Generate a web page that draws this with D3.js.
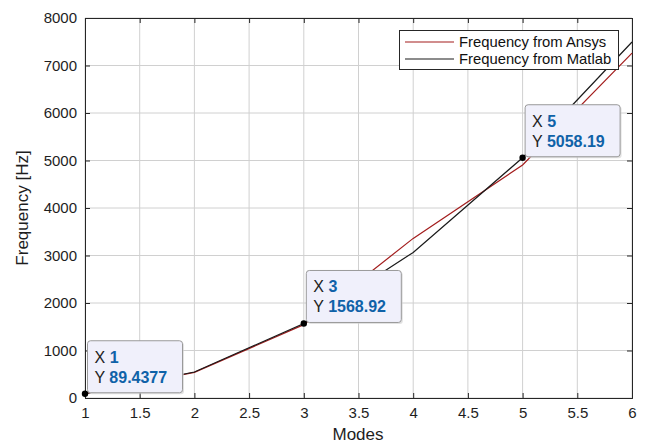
<!DOCTYPE html>
<html><head><meta charset="utf-8">
<script src="https://cdn.jsdelivr.net/npm/d3@7"></script>
<style>body{margin:0;background:#fff;} svg{font-family:"Liberation Sans",Arial,sans-serif;}</style>
</head><body>
<svg id="c" width="648" height="443"></svg>
<script>
const modes = [1, 2, 3, 4, 5, 6];
const ansys = [89.4, 540, 1545, 3360, 4905, 7260];
const matlab = [89.4377, 548, 1568.92, 3065, 5058.19, 7495];
const xTicks = [1, 1.5, 2, 2.5, 3, 3.5, 4, 4.5, 5, 5.5, 6];
const yTicks = [0, 1000, 2000, 3000, 4000, 5000, 6000, 7000, 8000];
const seriesNames = ["Frequency from Ansys", "Frequency from Matlab"];
const tipIdx = [0, 2, 4];
const tipLabels = ["89.4377", "1568.92", "5058.19"];

const svg = d3.select("#c");
const L = 85, R = 632, T = 18, B = 398;
const x = d3.scaleLinear().domain([1, 6]).range([L, R]);
const y = d3.scaleLinear().domain([0, 8000]).range([B, T]);

// grid
svg.append("g").selectAll("line").data(xTicks).join("line")
  .attr("x1", d => x(d)).attr("x2", d => x(d)).attr("y1", T).attr("y2", B)
  .attr("stroke", "#d0d0d0").attr("stroke-width", 1);
svg.append("g").selectAll("line").data(yTicks).join("line")
  .attr("y1", d => y(d)).attr("y2", d => y(d)).attr("x1", L).attr("x2", R)
  .attr("stroke", "#d0d0d0").attr("stroke-width", 1);

// axes
const ax = svg.append("g").attr("transform", `translate(0,${B})`)
  .call(d3.axisBottom(x).tickValues(xTicks).tickSize(-5).tickPadding(9).tickFormat(d3.format("")));
const ay = svg.append("g").attr("transform", `translate(${L},0)`)
  .call(d3.axisLeft(y).tickValues(yTicks).tickSize(-5).tickPadding(8).tickFormat(d3.format("")));
const axT = svg.append("g").attr("transform", `translate(0,${T})`)
  .call(d3.axisTop(x).tickValues(xTicks).tickSize(-5).tickFormat(""));
const ayR = svg.append("g").attr("transform", `translate(${R},0)`)
  .call(d3.axisRight(y).tickValues(yTicks).tickSize(-5).tickFormat(""));
[ax, ay, axT, ayR].forEach(g => {
  g.selectAll("path").attr("stroke", "#262626");
  g.selectAll("line").attr("stroke", "#262626");
  g.selectAll("text").attr("fill", "#1e1e1e").style("font-size", "15px")
    .style("font-family", '"Liberation Sans",Arial,sans-serif');
});

// lines
const line = d3.line().x((d, i) => x(modes[i])).y(d => y(d));
svg.append("path").datum(ansys).attr("d", line).attr("fill", "none")
  .attr("stroke", "#a31d1d").attr("stroke-width", 1.2);
svg.append("path").datum(matlab).attr("d", line).attr("fill", "none")
  .attr("stroke", "#1a1a1a").attr("stroke-width", 1.2);

// axis labels
svg.append("text").attr("x", 358).attr("y", 440).attr("text-anchor", "middle")
  .style("font-size", "17px").attr("fill", "#1e1e1e").text("Modes");
svg.append("text").attr("transform", `translate(28,${(T + B) / 2}) rotate(-90)`)
  .attr("text-anchor", "middle").style("font-size", "17px").attr("fill", "#1e1e1e").text("Frequency [Hz]");

// legend
const lg = svg.append("g");
lg.append("rect").attr("x", 399.5).attr("y", 30.5).attr("width", 219).attr("height", 39)
  .attr("fill", "#fff").attr("stroke", "#262626").attr("stroke-width", 1);
[["#a31d1d", 42], ["#1a1a1a", 59]].forEach((c, i) => {
  lg.append("line").attr("x1", 405).attr("x2", 454).attr("y1", c[1]).attr("y2", c[1])
    .attr("stroke", c[0]).attr("stroke-width", 1.2);
  lg.append("text").attr("x", 459).attr("y", c[1] + 5).style("font-size", "14.8px")
    .attr("fill", "#111").text(seriesNames[i]);
});

// datatips
const tips = svg.append("g");
tipIdx.forEach((k, j) => {
  const px = x(modes[k]), py = y(matlab[k]);
  const bx = px + 2.5, by = py - 53, w = 95, h = 52;
  tips.append("rect").attr("x", bx + 1.5).attr("y", by + 1.5).attr("width", w).attr("height", h)
    .attr("rx", 3).attr("fill", "#cfcfcf").attr("opacity", 0.6);
  tips.append("rect").attr("x", bx).attr("y", by).attr("width", w).attr("height", h)
    .attr("rx", 3).attr("fill", "#f0f0fb").attr("stroke", "#9a9a9a").attr("stroke-width", 1);
  const t1 = tips.append("text").attr("x", bx + 7).attr("y", by + 22).style("font-size", "16px");
  t1.append("tspan").attr("fill", "#222").text("X ");
  t1.append("tspan").attr("fill", "#0f62a8").style("font-weight", "bold").text(modes[k]);
  const t2 = tips.append("text").attr("x", bx + 7).attr("y", by + 42).style("font-size", "16px");
  t2.append("tspan").attr("fill", "#222").text("Y ");
  t2.append("tspan").attr("fill", "#0f62a8").style("font-weight", "bold").text(tipLabels[j]);
  tips.append("circle").attr("cx", px).attr("cy", py).attr("r", 3.2).attr("fill", "#000");
});
</script>
</body></html>
